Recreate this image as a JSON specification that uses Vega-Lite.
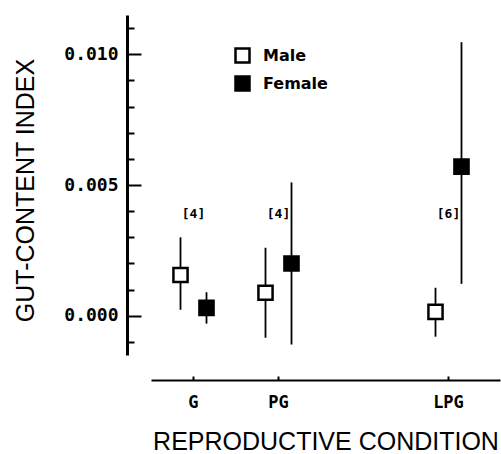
{
  "$schema": "https://vega.github.io/schema/vega-lite/v6.json",
  "width": 349,
  "height": 340,
  "autosize": {"type": "none"},
  "padding": {"left": 151, "top": 15, "right": 1, "bottom": 99},
  "background": "white",
  "config": {"view": {"stroke": null}, "axis": {"grid": false}},
  "datasets": {
    "points": [
      {"condition": "G", "sex": "Male", "index": 0.00156, "lower": 0.00023, "upper": 0.0030},
      {"condition": "G", "sex": "Female", "index": 0.0003, "lower": -0.0003, "upper": 0.0009},
      {"condition": "PG", "sex": "Male", "index": 0.00088, "lower": -0.00084, "upper": 0.0026},
      {"condition": "PG", "sex": "Female", "index": 0.0020, "lower": -0.0011, "upper": 0.0051},
      {"condition": "LPG", "sex": "Male", "index": 0.00015, "lower": -0.0008, "upper": 0.00107},
      {"condition": "LPG", "sex": "Female", "index": 0.0057, "lower": 0.00122, "upper": 0.01046}
    ],
    "samples": [
      {"condition": "G", "n": "[4]"},
      {"condition": "PG", "n": "[4]"},
      {"condition": "LPG", "n": "[6]"}
    ]
  },
  "encoding": {
    "x": {
      "field": "condition",
      "type": "nominal",
      "scale": {"type": "band", "domain": ["G", "PG", " ", "LPG"], "paddingInner": 0, "paddingOuter": 0.053, "align": 0},
      "axis": {
        "values": ["G", "PG", "LPG"],
        "title": "REPRODUCTIVE CONDITION",
        "offset": 25,
        "domainWidth": 2,
        "domainColor": "black",
        "tickSize": -4,
        "tickWidth": 2,
        "tickColor": "black",
        "labelFont": "DejaVu Sans Mono",
        "labelFontSize": 17,
        "labelFontWeight": "bold",
        "labelColor": "black",
        "labelAngle": 0,
        "labelPadding": 18,
        "titleFont": "Liberation Sans",
        "titleFontSize": 25,
        "titleFontWeight": "normal",
        "titleColor": "black",
        "titleY": 61,
        "titleBaseline": "middle"
      }
    }
  },
  "layer": [
    {
      "data": {"name": "points"},
      "mark": {"type": "rule", "color": "black", "strokeWidth": 1.8},
      "encoding": {
        "xOffset": {"field": "sex", "type": "nominal", "scale": {"domain": ["Male", "Female"], "paddingInner": 0, "paddingOuter": 0.635}},
        "y": {
          "field": "lower",
          "type": "quantitative",
          "scale": {"domain": [-0.0015, 0.0115], "nice": false, "zero": false},
          "axis": {
            "values": [-0.001, 0, 0.001, 0.002, 0.003, 0.004, 0.005, 0.006, 0.007, 0.008, 0.009, 0.01, 0.011],
            "tickCount": 30,
            "format": ".3f",
            "labelExpr": "datum.value == 0 || datum.value == 0.005 || datum.value == 0.01 ? datum.label : ''",
            "labelOverlap": false,
            "tickSize": {"condition": {"test": "datum.value == 0 || datum.value == 0.005 || datum.value == 0.01", "value": -14}, "value": -7},
            "offset": 24,
            "domainWidth": 3,
            "domainColor": "black",
            "tickWidth": 2,
            "tickColor": "black",
            "labelFont": "DejaVu Sans Mono",
            "labelFontSize": 18,
            "labelFontWeight": "bold",
            "labelColor": "black",
            "labelPadding": 23,
            "title": "GUT-CONTENT INDEX",
            "titleFont": "Liberation Sans",
            "titleFontSize": 25,
            "titleFontWeight": "normal",
            "titleColor": "black",
            "titleX": -102,
            "titleY": 175,
            "titleAlign": "center",
            "titleBaseline": "middle",
            "titleAngle": -90
          }
        },
        "y2": {"field": "upper"}
      }
    },
    {
      "data": {"name": "points"},
      "mark": {"type": "point", "shape": "square", "filled": true, "stroke": "black", "strokeWidth": 2.5, "size": 200, "opacity": 1},
      "encoding": {
        "xOffset": {"field": "sex", "type": "nominal", "scale": {"domain": ["Male", "Female"], "paddingInner": 0, "paddingOuter": 0.635}},
        "y": {"field": "index", "type": "quantitative"},
        "fill": {
          "field": "sex",
          "type": "nominal",
          "scale": {"domain": ["Male", "Female"], "range": ["white", "black"]},
          "legend": {
            "title": null,
            "orient": "none",
            "legendX": 83,
            "legendY": 32,
            "symbolType": "square",
            "symbolSize": 196,
            "symbolStrokeColor": "black",
            "symbolStrokeWidth": 2.5,
            "symbolOpacity": 1,
            "labelFont": "DejaVu Sans",
            "labelFontSize": 16,
            "labelFontWeight": "bold",
            "labelColor": "black",
            "labelOffset": 12,
            "rowPadding": 3,
            "padding": 0
          }
        }
      }
    },
    {
      "data": {"name": "samples"},
      "mark": {"type": "text", "font": "DejaVu Sans Mono", "fontSize": 13, "fontWeight": "bold", "color": "black"},
      "encoding": {
        "y": {"datum": 0.0039},
        "text": {"field": "n"}
      }
    }
  ]
}
